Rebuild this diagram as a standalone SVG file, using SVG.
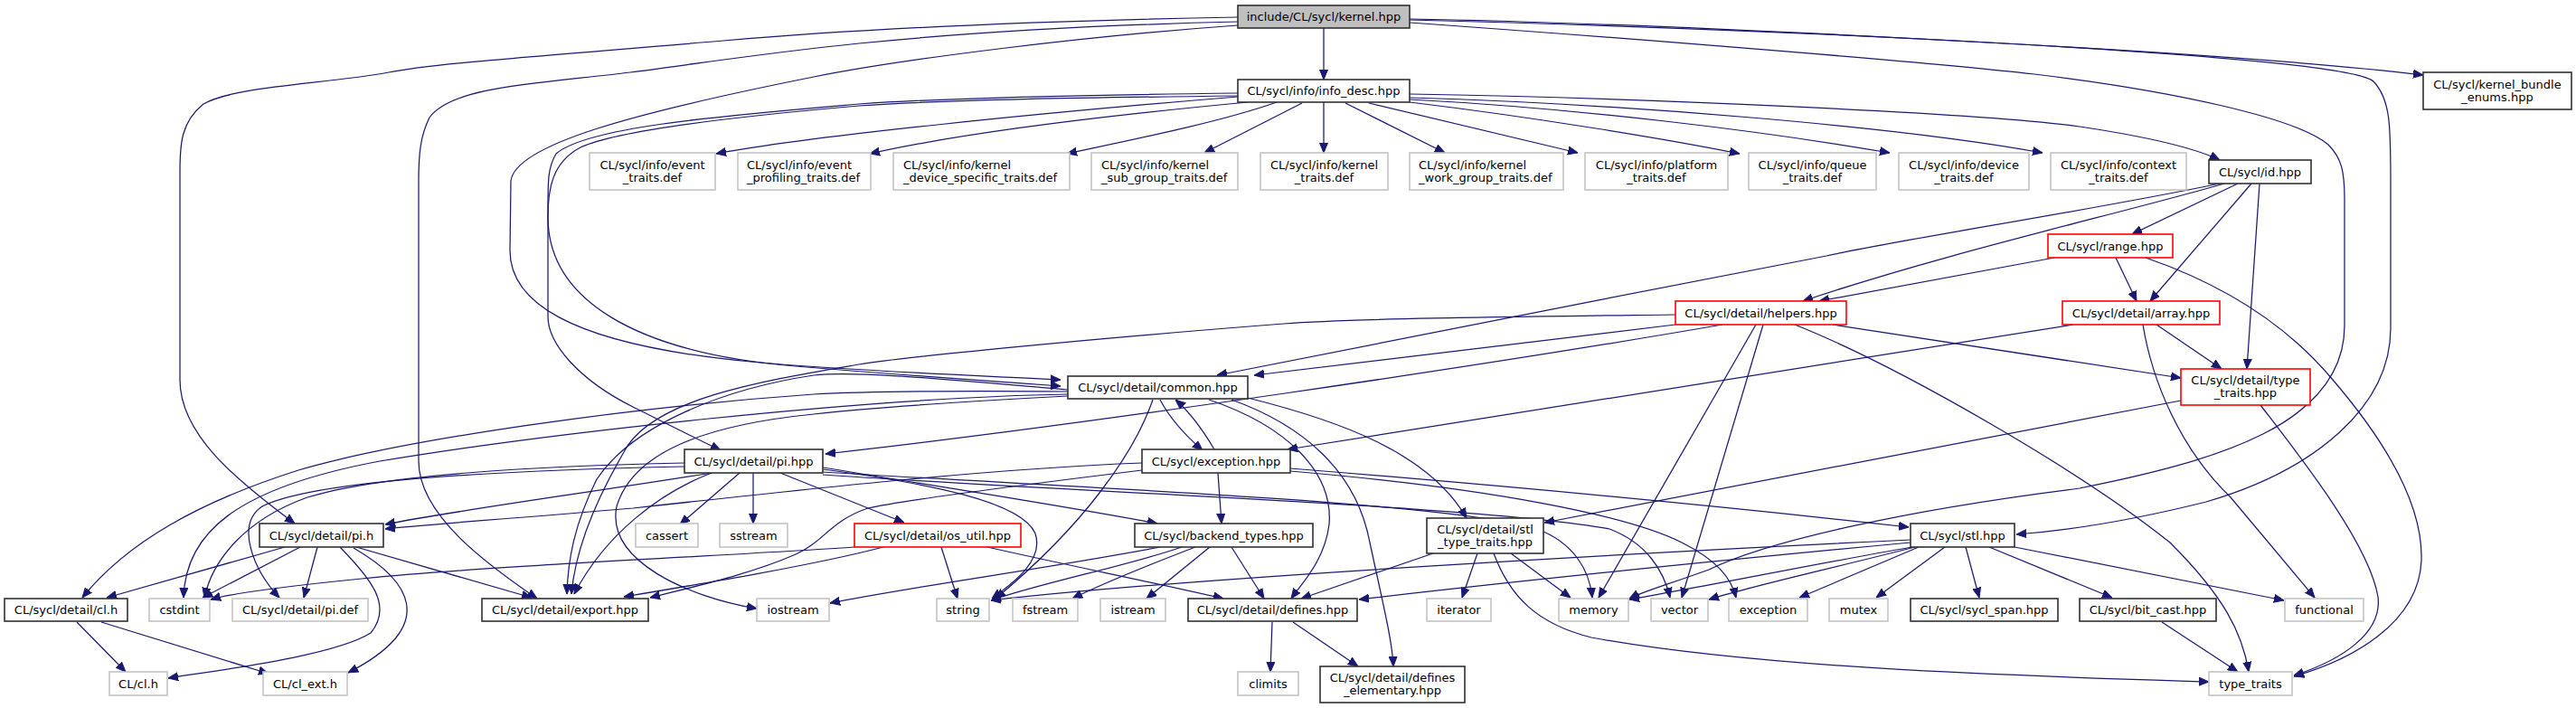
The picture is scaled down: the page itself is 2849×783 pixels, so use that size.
<svg xmlns="http://www.w3.org/2000/svg" width="2849" height="783" viewBox="0 0 2849 783">
<defs>
<style>
.node rect{fill:#ffffff;stroke-width:1.6}
.root rect{fill:#bfbfbf;stroke:#303030}
.blk rect{stroke:#303030}
.gry rect{stroke:#c4c4c4}
.red rect{stroke:#ff0000}
text{font-family:"DejaVu Sans","Liberation Sans",sans-serif;font-size:13px;fill:#000000;text-anchor:middle}
text.l{text-anchor:start}
#edges path{fill:none;stroke:#191970;stroke-width:1.25;marker-end:url(#ah)}
</style>
<marker id="ah" viewBox="0 -5 11 10" refX="11" refY="0" markerWidth="11" markerHeight="10" markerUnits="userSpaceOnUse" orient="auto">
<path d="M0,-4.5 L11,0 L0,4.5 Z" fill="#191970" stroke="#191970" stroke-width="1"/>
</marker>
</defs>
<rect x="0" y="0" width="2849" height="783" fill="#ffffff"/>

<g id="edges">
<!-- kernel.hpp -->
<path d="M1464,31 L1464,88"/>
<path d="M1559,21 C1800,25 2450,55 2680,83"/>
<path d="M1559,22 C1950,32 2590,60 2625,90 C2644,110 2644,140 2644,200 L2644,363 C2644,450 2560,520 2440,555 C2340,580 2270,588 2230,591"/>
<path d="M1559,25 C1700,35 2100,65 2250,82 C2400,100 2540,130 2575,160 C2590,175 2593,190 2593,220 L2593,360 C2593,470 2450,510 2300,540 C2100,565 1950,600 1890,630 C1840,648 1815,655 1802,662"/>
<path d="M1369,19 C1200,22 1000,28 800,45 C600,62 480,70 430,80 C360,93 260,95 225,115 C200,135 199,160 199,190 L199,420 C199,480 260,530 326,579"/>
<path d="M1369,24 C1200,28 1050,38 950,48 C850,58 760,72 697,80 C600,92 500,95 475,130 C465,150 463,170 463,200 L463,510 C463,570 540,625 594,662"/>
<path d="M1369,28 C1200,40 1000,65 900,85 C700,125 570,160 565,200 L564,277 C564,330 620,380 830,400 C950,411 1080,415 1173,420"/>
<!-- info_desc.hpp -->
<path d="M1369,107 C1150,125 900,150 792,170"/>
<path d="M1380,113 C1200,130 1050,150 962,170"/>
<path d="M1412,113 C1350,135 1250,155 1180,170"/>
<path d="M1440,114 L1332,169"/>
<path d="M1464,113 L1464,169"/>
<path d="M1488,114 L1598,169"/>
<path d="M1514,114 L1745,169"/>
<path d="M1559,113 C1700,130 1850,155 1924,170"/>
<path d="M1559,110 C1750,120 1950,145 2090,169"/>
<path d="M1559,108 C1800,115 2100,140 2259,169"/>
<path d="M1559,104 C1800,108 2200,125 2300,140 C2380,152 2430,165 2455,177"/>
<path d="M1369,103 C1200,105 1050,108 950,115 C800,128 650,140 615,170 C606,185 606,200 606,230 L606,350 C606,380 640,420 700,450 C740,470 770,485 797,498"/>
<path d="M1369,106 C1200,108 1050,110 950,117 C800,130 680,145 642,163 C610,180 606,210 606,240 C606,330 700,390 880,405 C1000,415 1100,422 1173,427"/>
<!-- id.hpp -->
<path d="M2475,203 L2358,259"/>
<path d="M2490,203 L2378,333"/>
<path d="M2499,203 L2485,408"/>
<path d="M2460,203 C2350,235 2150,280 1994,333"/>
<path d="M2455,203 C2300,235 2100,265 2020,283 C1800,325 1500,385 1346,415"/>
<!-- range.hpp -->
<path d="M2272,285 L2012,333"/>
<path d="M2340,285 L2363,333"/>
<path d="M2373,285 C2460,315 2530,360 2580,420 C2640,490 2680,560 2678,620 C2675,690 2600,730 2537,748"/>
<!-- array.hpp -->
<path d="M2385,359 L2457,408"/>
<path d="M2370,359 C2380,420 2410,495 2467,550 L2560,661"/>
<path d="M2293,359 L1424,497"/>
<!-- helpers.hpp -->
<path d="M1853,359 L1387,415"/>
<path d="M1853,348 C1700,350 1500,352 1420,358 C1200,375 1000,395 950,403 C850,420 720,440 690,500 C655,560 636,610 632,657"/>
<path d="M1905,359 C1650,403 1200,470 913,502"/>
<path d="M2027,359 L2412,418"/>
<path d="M1942,359 L1768,661"/>
<path d="M1950,359 L1860,661"/>
<path d="M1985,359 C2100,405 2300,520 2400,600 C2460,660 2480,700 2487,743"/>
<!-- detail/type_traits.hpp -->
<path d="M2412,443 L1708,578"/>
<path d="M2500,448 C2540,500 2620,600 2630,660 C2635,700 2590,730 2537,747"/>
<!-- common.hpp -->
<path d="M1283,442 C1295,465 1315,485 1330,498"/>
<path d="M1275,442 C1255,500 1200,580 1101,662"/>
<path d="M1337,442 C1420,470 1475,520 1470,580 C1465,620 1440,645 1428,662"/>
<path d="M1362,442 C1440,470 1500,520 1515,600 C1530,670 1540,710 1541,737"/>
<path d="M1380,440 C1480,465 1580,500 1622,573"/>
<path d="M1181,433 C1050,432 950,433 900,436 C700,450 450,485 330,520 C220,555 140,600 91,661"/>
<path d="M1181,436 C950,440 600,480 420,510 C260,540 205,590 203,661"/>
<path d="M1181,431 C1050,420 950,410 900,415 C800,430 700,470 660,530 C635,580 628,620 627,657"/>
<path d="M1181,438 C1050,445 950,452 900,458 C780,470 700,500 682,560 C670,620 760,660 837,673"/>
<!-- exception.hpp -->
<path d="M1343,497 C1330,475 1315,455 1300,442"/>
<path d="M1347,523 L1351,579"/>
<path d="M1263,520 C1100,540 990,555 960,562 C920,575 910,600 880,613 C830,635 770,648 719,661"/>
<path d="M1263,512 C1100,518 900,540 700,562 C550,575 470,580 426,585"/>
<path d="M1427,518 C1700,540 1950,565 2111,583"/>
<path d="M1427,521 C1650,540 1800,570 1860,600 C1900,620 1915,640 1920,661"/>
<!-- pi.hpp -->
<path d="M787,523 C650,545 500,565 426,580"/>
<path d="M757,512 C600,515 420,525 340,550 C270,575 235,620 226,661"/>
<path d="M757,516 C560,520 350,530 290,560 C260,580 280,630 309,661"/>
<path d="M787,523 C730,545 670,590 635,657"/>
<path d="M818,523 L752,580"/>
<path d="M833,523 L833,579"/>
<path d="M863,523 L1000,578"/>
<path d="M910,517 C1050,540 1180,560 1280,579"/>
<path d="M910,519 C1030,535 1130,555 1145,590 C1155,620 1120,645 1097,662"/>
<path d="M910,522 C1200,540 1600,555 1700,585 C1740,600 1758,630 1761,661"/>
<path d="M910,525 C1200,545 1650,560 1780,585 C1820,600 1840,630 1847,661"/>
<!-- os_util.hpp -->
<path d="M945,605 C800,615 550,625 400,640 C320,648 260,655 233,663"/>
<path d="M977,605 C900,625 780,645 690,660"/>
<path d="M1041,605 L1059,662"/>
<path d="M1092,605 C1180,625 1280,645 1353,662"/>
<!-- backend_types.hpp -->
<path d="M1283,605 C1150,630 1000,650 918,667"/>
<path d="M1307,605 C1250,625 1150,645 1096,664"/>
<path d="M1322,605 C1270,625 1220,645 1186,662"/>
<path d="M1338,605 L1268,662"/>
<path d="M1362,605 L1398,662"/>
<!-- stl_type_traits.hpp -->
<path d="M1585,612 L1439,662"/>
<path d="M1634,612 L1617,661"/>
<path d="M1671,612 L1737,661"/>
<path d="M1652,612 C1670,660 1700,690 1760,705 C1950,740 2250,748 2443,754"/>
<!-- stl.hpp -->
<path d="M2113,597 C1800,612 1300,640 1096,664"/>
<path d="M2113,600 C1900,620 1700,640 1503,663"/>
<path d="M2115,605 C2000,625 1880,650 1802,663"/>
<path d="M2118,605 C2020,630 1930,650 1890,663"/>
<path d="M2122,605 L1990,661"/>
<path d="M2151,605 L2075,661"/>
<path d="M2174,605 L2189,661"/>
<path d="M2200,605 L2336,661"/>
<path d="M2228,605 L2526,664"/>
<!-- pi.h -->
<path d="M315,605 L118,661"/>
<path d="M332,605 L224,661"/>
<path d="M351,605 L336,661"/>
<path d="M376,605 C410,640 435,670 410,700 C370,725 250,740 186,750"/>
<path d="M391,606 C450,640 490,690 385,744"/>
<path d="M394,605 L588,661"/>
<!-- detail/cl.h -->
<path d="M85,688 L139,743"/>
<path d="M112,688 L297,745"/>
<!-- defines.hpp -->
<path d="M1407,688 L1405,743"/>
<path d="M1430,688 L1502,737"/>
<!-- bit_cast.hpp -->
<path d="M2391,688 L2475,743"/>
</g>

<g id="n_kernel" class="node root"><rect x="1369" y="6" width="190" height="25"/><text x="1464" y="23">include/CL/sycl/kernel.hpp</text></g>
<g id="n_info_desc" class="node blk"><rect x="1369" y="88" width="190" height="25"/><text x="1464" y="105">CL/sycl/info/info_desc.hpp</text></g>
<g id="n_kernel_bundle_enums" class="node blk"><rect x="2680" y="80" width="164" height="41"/><text x="2762" y="97.5">CL/sycl/kernel_bundle</text><text x="2762" y="111.5">_enums.hpp</text></g>

<g id="n_event_traits" class="node gry"><rect x="652" y="169" width="139" height="41"/><text x="721.5" y="186.5">CL/sycl/info/event</text><text x="721.5" y="200.5">_traits.def</text></g>
<g id="n_event_profiling" class="node gry"><rect x="816" y="169" width="147" height="41"/><text class="l" x="826" y="186.5">CL/sycl/info/event</text><text class="l" x="826" y="200.5">_profiling_traits.def</text></g>
<g id="n_kernel_device_specific" class="node gry"><rect x="988" y="169" width="195" height="41"/><text class="l" x="999" y="186.5">CL/sycl/info/kernel</text><text class="l" x="999" y="200.5">_device_specific_traits.def</text></g>
<g id="n_kernel_sub_group" class="node gry"><rect x="1207" y="169" width="162" height="41"/><text class="l" x="1218" y="186.5">CL/sycl/info/kernel</text><text class="l" x="1218" y="200.5">_sub_group_traits.def</text></g>
<g id="n_kernel_traits" class="node gry"><rect x="1394" y="169" width="141" height="41"/><text x="1464.5" y="186.5">CL/sycl/info/kernel</text><text x="1464.5" y="200.5">_traits.def</text></g>
<g id="n_kernel_work_group" class="node gry"><rect x="1559" y="169" width="170" height="41"/><text class="l" x="1569" y="186.5">CL/sycl/info/kernel</text><text class="l" x="1569" y="200.5">_work_group_traits.def</text></g>
<g id="n_platform_traits" class="node gry"><rect x="1753" y="169" width="158" height="41"/><text x="1832" y="186.5">CL/sycl/info/platform</text><text x="1832" y="200.5">_traits.def</text></g>
<g id="n_queue_traits" class="node gry"><rect x="1934" y="169" width="141" height="41"/><text x="2004.5" y="186.5">CL/sycl/info/queue</text><text x="2004.5" y="200.5">_traits.def</text></g>
<g id="n_device_traits" class="node gry"><rect x="2100" y="169" width="144" height="41"/><text x="2172" y="186.5">CL/sycl/info/device</text><text x="2172" y="200.5">_traits.def</text></g>
<g id="n_context_traits" class="node gry"><rect x="2268" y="169" width="150" height="41"/><text x="2343" y="186.5">CL/sycl/info/context</text><text x="2343" y="200.5">_traits.def</text></g>
<g id="n_id" class="node blk"><rect x="2443" y="177" width="113" height="26"/><text x="2499.5" y="194.5">CL/sycl/id.hpp</text></g>

<g id="n_range" class="node red"><rect x="2265" y="259" width="138" height="26"/><text x="2334" y="276.5">CL/sycl/range.hpp</text></g>
<g id="n_helpers" class="node red"><rect x="1853" y="333" width="189" height="26"/><text x="1947.5" y="350.5">CL/sycl/detail/helpers.hpp</text></g>
<g id="n_array" class="node red"><rect x="2281" y="333" width="174" height="26"/><text x="2368" y="350.5">CL/sycl/detail/array.hpp</text></g>
<g id="n_common" class="node blk"><rect x="1181" y="416" width="199" height="25"/><text x="1280.5" y="433">CL/sycl/detail/common.hpp</text></g>
<g id="n_detail_type_traits" class="node red"><rect x="2412" y="408" width="143" height="40"/><text x="2483.5" y="425">CL/sycl/detail/type</text><text x="2483.5" y="439">_traits.hpp</text></g>

<g id="n_pi_hpp" class="node blk"><rect x="757" y="497" width="153" height="26"/><text x="833.5" y="514.5">CL/sycl/detail/pi.hpp</text></g>
<g id="n_exception_hpp" class="node blk"><rect x="1263" y="497" width="164" height="26"/><text x="1345" y="514.5">CL/sycl/exception.hpp</text></g>

<g id="n_pi_h" class="node blk"><rect x="287" y="579" width="137" height="26"/><text x="355.5" y="596.5">CL/sycl/detail/pi.h</text></g>
<g id="n_cassert" class="node gry"><rect x="703" y="579" width="69" height="26"/><text x="737.5" y="596.5">cassert</text></g>
<g id="n_sstream" class="node gry"><rect x="796" y="579" width="75" height="26"/><text x="833.5" y="596.5">sstream</text></g>
<g id="n_os_util" class="node red"><rect x="945" y="579" width="184" height="26"/><text x="1037" y="596.5">CL/sycl/detail/os_util.hpp</text></g>
<g id="n_backend_types" class="node blk"><rect x="1255" y="579" width="197" height="26"/><text x="1353.5" y="596.5">CL/sycl/backend_types.hpp</text></g>
<g id="n_stl_type_traits" class="node blk"><rect x="1578" y="573" width="129" height="39"/><text x="1642.5" y="589.5">CL/sycl/detail/stl</text><text x="1642.5" y="603.5">_type_traits.hpp</text></g>
<g id="n_stl" class="node blk"><rect x="2113" y="579" width="115" height="26"/><text x="2170.5" y="596.5">CL/sycl/stl.hpp</text></g>

<g id="n_detail_cl_h" class="node blk"><rect x="5" y="662" width="136" height="25"/><text x="73" y="679">CL/sycl/detail/cl.h</text></g>
<g id="n_cstdint" class="node gry"><rect x="165" y="662" width="67" height="25"/><text x="198.5" y="679">cstdint</text></g>
<g id="n_pi_def" class="node gry"><rect x="257" y="662" width="150" height="25"/><text x="332" y="679">CL/sycl/detail/pi.def</text></g>
<g id="n_export" class="node blk"><rect x="533" y="662" width="184" height="25"/><text x="625" y="679">CL/sycl/detail/export.hpp</text></g>
<g id="n_iostream" class="node gry"><rect x="837" y="662" width="80" height="25"/><text x="877" y="679">iostream</text></g>
<g id="n_string" class="node gry"><rect x="1036" y="662" width="58" height="25"/><text x="1065" y="679">string</text></g>
<g id="n_fstream" class="node gry"><rect x="1120" y="662" width="72" height="25"/><text x="1156" y="679">fstream</text></g>
<g id="n_istream" class="node gry"><rect x="1217" y="662" width="72" height="25"/><text x="1253" y="679">istream</text></g>
<g id="n_defines" class="node blk"><rect x="1314" y="662" width="187" height="25"/><text x="1407.5" y="679">CL/sycl/detail/defines.hpp</text></g>
<g id="n_iterator" class="node gry"><rect x="1578" y="662" width="71" height="25"/><text x="1613.5" y="679">iterator</text></g>
<g id="n_memory" class="node gry"><rect x="1724" y="662" width="77" height="25"/><text x="1762.5" y="679">memory</text></g>
<g id="n_vector" class="node gry"><rect x="1826" y="662" width="63" height="25"/><text x="1857.5" y="679">vector</text></g>
<g id="n_exception" class="node gry"><rect x="1912" y="662" width="87" height="25"/><text x="1955.5" y="679">exception</text></g>
<g id="n_mutex" class="node gry"><rect x="2023" y="662" width="65" height="25"/><text x="2055.5" y="679">mutex</text></g>
<g id="n_sycl_span" class="node blk"><rect x="2113" y="662" width="163" height="25"/><text x="2194.5" y="679">CL/sycl/sycl_span.hpp</text></g>
<g id="n_bit_cast" class="node blk"><rect x="2300" y="662" width="151" height="25"/><text x="2375.5" y="679">CL/sycl/bit_cast.hpp</text></g>
<g id="n_functional" class="node gry"><rect x="2527" y="662" width="87" height="25"/><text x="2570.5" y="679">functional</text></g>

<g id="n_cl_h" class="node gry"><rect x="121" y="743" width="64" height="26"/><text x="153" y="760.5">CL/cl.h</text></g>
<g id="n_cl_ext_h" class="node gry"><rect x="291" y="743" width="93" height="26"/><text x="337.5" y="760.5">CL/cl_ext.h</text></g>
<g id="n_climits" class="node gry"><rect x="1369" y="743" width="67" height="26"/><text x="1402.5" y="760.5">climits</text></g>
<g id="n_defines_elementary" class="node blk"><rect x="1460" y="737" width="160" height="40"/><text x="1540" y="754">CL/sycl/detail/defines</text><text x="1540" y="768">_elementary.hpp</text></g>
<g id="n_type_traits" class="node gry"><rect x="2443" y="743" width="92" height="26"/><text x="2489" y="760.5">type_traits</text></g>
</svg>
